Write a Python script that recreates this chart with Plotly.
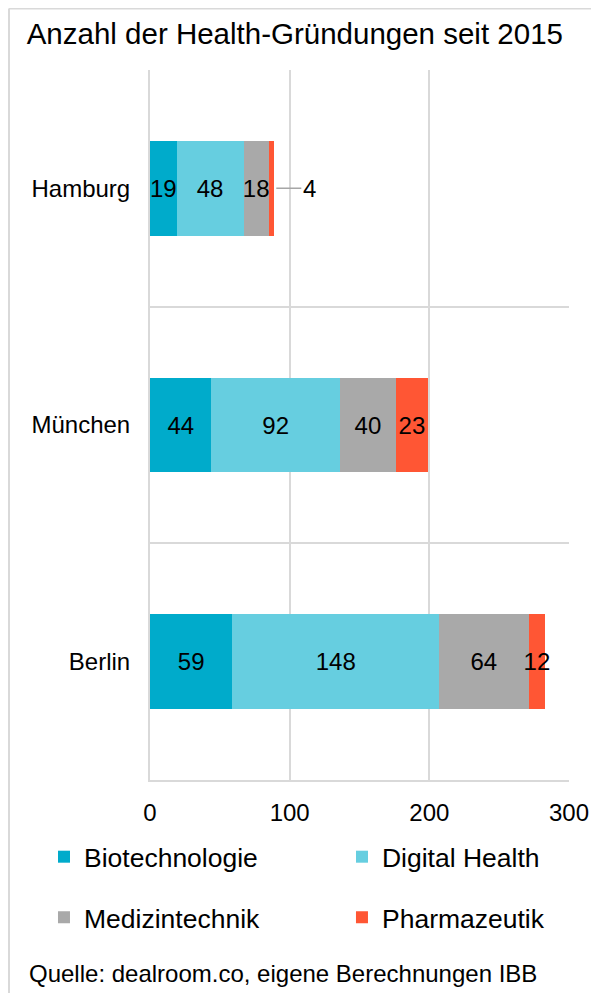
import plotly.graph_objects as go

# data
cities = ["Berlin", "München", "Hamburg"]
biotech = [59, 44, 19]
digital_health = [148, 92, 48]
medizintechnik = [64, 40, 18]
pharmazeutik = [12, 23, 4]

series = [
    ("Biotechnologie", biotech, "#00ABCB"),
    ("Digital Health", digital_health, "#66CEE0"),
    ("Medizintechnik", medizintechnik, "#A9A9A9"),
    ("Pharmazeutik", pharmazeutik, "#FF5634"),
]

FONT = "Arial, Liberation Sans, sans-serif"
GRID = "#D9D9D9"
W, H = 591, 985  # page body has an 8px margin

# one single-item legend per series, laid out as a 2x2 grid
legend_names = ["legend", "legend2", "legend3", "legend4"]
legend_pos = [(0.0609, 0.1381), (0.5651, 0.1381), (0.0609, 0.0766), (0.5651, 0.0766)]

fig = go.Figure()
for (name, vals, color), leg in zip(series, legend_names):
    labels = [str(v) for v in vals]
    if name == "Pharmazeutik":
        # Hamburg's small segment gets an outside label with a leader line
        labels[cities.index("Hamburg")] = ""
    fig.add_trace(go.Bar(
        y=cities,
        x=vals,
        name=name,
        orientation="h",
        marker=dict(color=color, line=dict(width=0)),
        text=labels,
        textposition="inside",
        insidetextanchor="middle",
        constraintext="none",
        textfont=dict(family=FONT, size=24, color="black"),
        legend=leg,
        hoverinfo="x+name",
    ))

hh = cities.index("Hamburg")
hh_total = biotech[hh] + digital_health[hh] + medizintechnik[hh] + pharmazeutik[hh]
fig.add_annotation(
    x=hh_total, y="Hamburg", xref="x", yref="y",
    text=str(pharmazeutik[hh]),
    showarrow=True, arrowhead=0, arrowwidth=1.5, arrowcolor="#A6A6A6",
    ax=35, ay=0, standoff=2,
    font=dict(family=FONT, size=24, color="black"),
)

fig.add_annotation(
    xref="paper", yref="paper", x=0.0321, y=0.0203,
    xanchor="left", yanchor="middle", showarrow=False,
    text="Quelle: dealroom.co, eigene Berechnungen IBB",
    font=dict(family=FONT, size=24, color="black"),
)

# outer frame: only its top and left edges are visible
fig.add_shape(type="line", xref="paper", yref="paper",
              x0=1 / W, x1=1, y0=1 - 0.5 / H, y1=1 - 0.5 / H,
              line=dict(color=GRID, width=2), layer="below")
fig.add_shape(type="line", xref="paper", yref="paper",
              x0=1 / W, x1=1 / W, y0=0, y1=1 - 0.5 / H,
              line=dict(color=GRID, width=2), layer="below")

legends = {}
for leg, (lx, ly) in zip(legend_names, legend_pos):
    legends[leg] = dict(
        orientation="h", xref="paper", yref="paper",
        x=lx, y=ly, xanchor="left", yanchor="middle",
        font=dict(family=FONT, size=26.5, color="black"),
        bgcolor="rgba(0,0,0,0)", borderwidth=0,
    )

fig.update_layout(
    width=W, height=H,
    barmode="stack", bargap=0.6,
    paper_bgcolor="white", plot_bgcolor="white",
    font=dict(family=FONT, size=24, color="black"),
    margin=dict(l=0, r=0, t=0, b=0, autoexpand=False),
    title=dict(
        text="Anzahl der Health-Gründungen seit 2015",
        xref="container", yref="container",
        x=0.0316, y=0.9736, xanchor="left", yanchor="middle",
        font=dict(family=FONT, size=29.5, color="black"),
    ),
    xaxis=dict(
        domain=[142 / W, 561 / W],
        range=[0, 300], dtick=100, showgrid=True, gridcolor=GRID, gridwidth=2,
        showline=True, linecolor=GRID, linewidth=2, zeroline=False,
        ticks="", ticklabelstandoff=10,
        tickfont=dict(family=FONT, size=24, color="black"),
    ),
    yaxis=dict(
        domain=[1 - 772 / H, 1 - 62 / H],
        type="category", range=[-0.5, 2.5], tickson="boundaries",
        showgrid=True, gridcolor=GRID, gridwidth=2,
        showline=True, linecolor=GRID, linewidth=2,
        ticks="", ticklabelstandoff=13,
        tickfont=dict(family=FONT, size=24, color="black"),
    ),
    showlegend=True,
    **legends,
)

fig.write_html("out.html")
